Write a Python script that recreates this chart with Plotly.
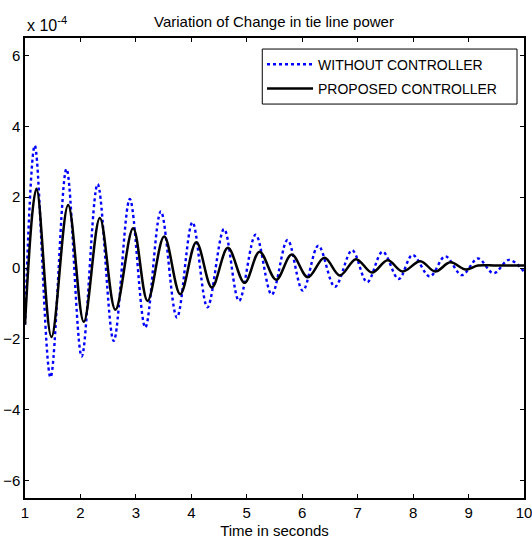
import plotly.graph_objects as go

# values (y in units of 1e-4), extrema of each oscillation
t_without = [1.0, 1.177, 1.46, 1.748, 2.023, 2.31, 2.60, 2.89, 3.17, 3.45, 3.74, 4.02, 4.29,
             4.59, 4.86, 5.16, 5.45, 5.735, 6.01, 6.29, 6.59, 6.90, 7.17, 7.45, 7.74, 7.99,
             8.30, 8.58, 8.88, 9.17, 9.45, 9.73, 10.0]
p_without = [-1.6, 3.46, -3.09, 2.80, -2.50, 2.37, -2.06, 1.95, -1.68, 1.60, -1.40, 1.29, -1.11,
             1.10, -0.93, 0.94, -0.75, 0.79, -0.64, 0.63, -0.53, 0.50, -0.40, 0.46, -0.31, 0.37,
             -0.24, 0.33, -0.20, 0.27, -0.15, 0.23, -0.10]

t_proposed = [1.0, 1.207, 1.477, 1.778, 2.06, 2.35, 2.63, 2.95, 3.21, 3.51, 3.80, 4.09, 4.37,
              4.66, 4.96, 5.23, 5.53, 5.81, 6.10, 6.40, 6.68, 6.97, 7.26, 7.54, 7.81, 8.13,
              8.40, 8.67, 8.95, 9.17, 9.5, 10.0]
p_proposed = [-1.6, 2.24, -1.95, 1.78, -1.52, 1.41, -1.18, 1.12, -0.93, 0.89, -0.74, 0.73, -0.55,
              0.57, -0.42, 0.46, -0.33, 0.38, -0.26, 0.29, -0.21, 0.25, -0.13, 0.22, -0.10, 0.19,
              -0.10, 0.16, -0.04, 0.07, 0.07, 0.07]

x_ticks = [1, 2, 3, 4, 5, 6, 7, 8, 9, 10]
y_ticks = [-6, -4, -2, 0, 2, 4, 6]

font = "Liberation Sans, Arial, sans-serif"

fig = go.Figure()
fig.add_trace(go.Scatter(x=t_without, y=p_without, mode="lines", name="WITHOUT CONTROLLER", legendgroup="a",
                         line=dict(color="#0000ff", width=2.4, dash="dot", shape="spline", smoothing=1.0)))
fig.add_trace(go.Scatter(x=t_proposed, y=p_proposed, mode="lines", name="PROPOSED CONTROLLER", legendgroup="b",
                         line=dict(color="black", width=2.5, shape="spline", smoothing=1.0)))

axis_style = dict(showgrid=False, zeroline=False, showline=True, linecolor="black", linewidth=1.5,
                  mirror="ticks", ticks="inside", ticklen=4, tickcolor="black", automargin=False,
                  ticklabeloverflow="allow",
                  tickfont=dict(family=font, size=15, color="black"))

fig.update_xaxes(range=[1, 10], tickvals=x_ticks,
                 title=dict(text="Time in seconds", font=dict(family=font, size=15, color="black"), standoff=6),
                 **axis_style)
fig.update_yaxes(range=[-6.5, 6.5], tickvals=y_ticks, **axis_style)

# legend frame drawn as a box so it can be as wide as the original one
fig.add_shape(type="rect", xref="paper", yref="paper", x0=0.4755, x1=0.986, y0=0.8564, y1=0.976,
              line=dict(color="black", width=1), fillcolor="white", layer="above")

fig.update_layout(
    width=532, height=545, autosize=False,
    margin=dict(l=25, r=8, t=38, b=47),
    plot_bgcolor="white", paper_bgcolor="white",
    font=dict(family=font, size=15, color="black"),
    title=dict(text="Variation of Change in tie line power", x=0.515, xanchor="center",
               y=0.961, yanchor="middle", font=dict(family=font, size=15, color="black")),
    legend=dict(x=0.475, y=0.977, xanchor="left", yanchor="top", bgcolor="rgba(0,0,0,0)",
                borderwidth=0, font=dict(family=font, size=14, color="black"),
                tracegroupgap=3, itemwidth=46),
    annotations=[dict(text="x 10<sup>-4</sup>", xref="paper", yref="paper", x=0.0, y=1.0,
                      xanchor="left", yanchor="bottom", yshift=2, showarrow=False,
                      font=dict(family=font, size=16, color="black"))],
)

fig.write_html("out.html", config={"displayModeBar": False},
               post_script="document.body.style.margin='0';")
